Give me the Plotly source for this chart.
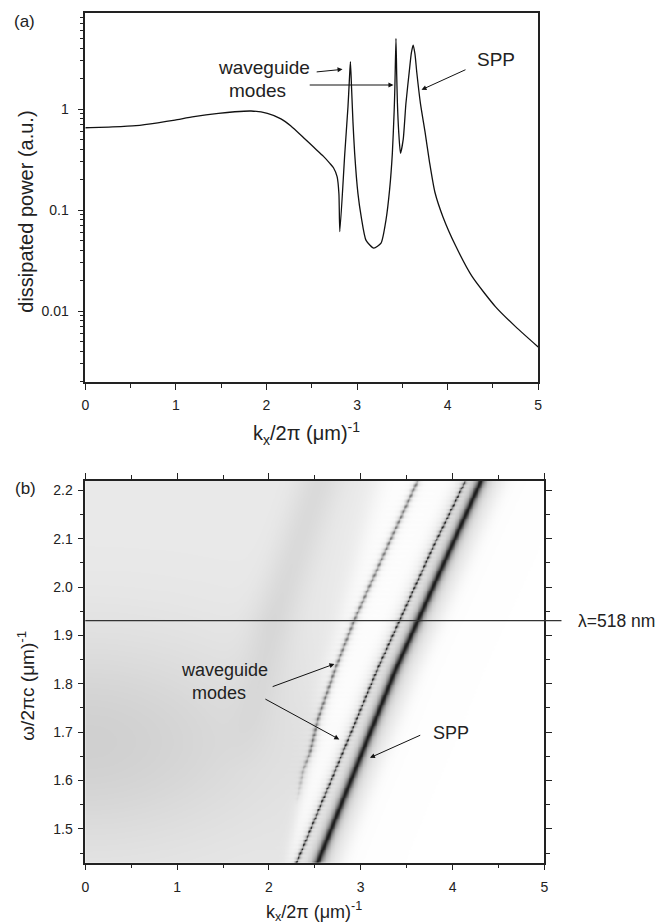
import numpy as np
import plotly.graph_objects as go

# ---------------- Panel (a): dissipated power vs k_x/2pi at lambda = 518 nm ----------------
k_a = [0.00, 0.30, 0.56, 0.80, 0.99, 1.20, 1.47, 1.65, 1.83, 2.01, 2.16, 2.27, 2.41, 2.52,
       2.63, 2.70, 2.74, 2.78, 2.80, 2.81, 2.865, 2.90, 2.915, 2.927, 2.94, 2.955, 2.974,
       3.01, 3.047, 3.10, 3.185, 3.265, 3.32, 3.36, 3.39, 3.41, 3.418, 3.43, 3.438, 3.446,
       3.46, 3.48, 3.51, 3.54, 3.58, 3.60, 3.62, 3.64, 3.66, 3.70, 3.75, 3.80, 3.86, 3.95,
       4.09, 4.27, 4.53, 4.75, 5.00]
p_a = [0.653, 0.665, 0.684, 0.73, 0.778, 0.84, 0.906, 0.94, 0.956, 0.906, 0.80, 0.68, 0.52, 0.42,
       0.34, 0.29, 0.262, 0.214, 0.146, 0.061, 0.364, 1.05, 1.9, 2.94, 1.6, 0.75, 0.364,
       0.146, 0.085, 0.050, 0.042, 0.047, 0.08, 0.16, 0.364, 0.95, 1.66, 5.0, 2.2, 1.14,
       0.6, 0.364, 0.5, 1.14, 2.5, 3.6, 4.3, 3.5, 2.3, 1.14, 0.6, 0.30, 0.15, 0.085,
       0.044, 0.022, 0.011, 0.007, 0.0044]

y_major_a = [0.01, 0.1, 1]
y_minor_a = [0.002, 0.003, 0.004, 0.005, 0.006, 0.007, 0.008, 0.009,
             0.02, 0.03, 0.04, 0.05, 0.06, 0.07, 0.08, 0.09,
             0.2, 0.3, 0.4, 0.5, 0.6, 0.7, 0.8, 0.9,
             2, 3, 4, 5, 6, 7, 8]
x_major = [0, 1, 2, 3, 4, 5]
x_minor = [0.5, 1.5, 2.5, 3.5, 4.5]

# ---------------- Panel (b): dispersion map (ridge positions) ----------------
w_mode1 = [1.55, 1.62, 1.66, 1.725, 1.83, 1.93, 2.08, 2.22]
k_mode1 = [2.30, 2.37, 2.45, 2.53, 2.72, 2.925, 3.28, 3.62]
w_mode2 = [1.43, 1.62, 1.83, 1.93, 2.08, 2.22]
k_mode2 = [2.30, 2.72, 3.18, 3.42, 3.78, 4.14]
w_spp = [1.43, 1.83, 1.93, 2.22]
k_spp = [2.53, 3.38, 3.62, 4.31]
w_edge = [1.43, 1.555, 1.657, 1.83, 1.93, 2.22]
k_edge = [2.20, 2.34, 2.45, 2.62, 2.78, 3.20]
w_ridge = [1.60, 1.93, 2.22]
k_ridge = [1.70, 2.05, 2.55]
lambda_nm = 518

kk = np.linspace(0, 5, 560)
ww = np.linspace(1.43, 2.22, 420)
K, W = np.meshgrid(kk, ww)


def ridge(wl, kl):
    return np.interp(ww, wl, kl)[:, None]


def lor(c, g):
    return 1.0 / (1.0 + ((K - c) / g) ** 2)


edge = ridge(w_edge, k_edge)
soft = np.interp(ww, [1.43, 2.22], [0.03, 0.08])[:, None]
mask = 1.0 / (1.0 + np.exp((K - edge) / soft))
bg = 0.085 + 0.10 * np.exp(-(K / 2.1) ** 2 - ((W - 1.68) / 0.22) ** 2)
rw = np.clip((W - 1.62) / 0.3, 0, 1)
bg = bg + 0.06 * rw * np.exp(-((K - ridge(w_ridge, k_ridge)) / 0.25) ** 2)
bg = bg * mask

m1c = ridge(w_mode1, k_mode1)
a1 = np.clip((W - 1.55) / 0.12, 0, 1) * (0.40 + 0.12 * np.cos(2 * np.pi * W / 0.011))
m1 = a1 * lor(m1c, 0.018)

m2c = ridge(w_mode2, k_mode2)
a2 = 0.62 + 0.25 * np.cos(2 * np.pi * W / 0.009)
m2 = a2 * lor(m2c, 0.012)

sc = ridge(w_spp, k_spp)
sp = 0.82 * lor(sc, 0.04) + 0.06 * np.exp(-((K - sc) / 0.28) ** 4)
sp = np.clip(sp, 0, 1)

dark = 1 - (1 - bg) * (1 - m1) * (1 - m2) * (1 - sp)
dark = np.round(np.clip(dark, 0, 1), 3)

y_major_b = [1.5, 1.6, 1.7, 1.8, 1.9, 2.0, 2.1, 2.2]
y_minor_b = [1.45, 1.55, 1.65, 1.75, 1.85, 1.95, 2.05, 2.15]

# ---------------- Figure ----------------
FONT = "Liberation Sans, Arial, Helvetica, sans-serif"
INK = "#222222"
W_PX, H_PX = 662, 923

fig = go.Figure()
fig.add_trace(go.Scatter(x=k_a, y=p_a, mode="lines", xaxis="x", yaxis="y",
                         line=dict(color="#111111", width=1.3, shape="spline", smoothing=0.6),
                         showlegend=False))
fig.add_trace(go.Heatmap(x=kk, y=ww, z=dark, xaxis="x2", yaxis="y2", zmin=0, zmax=1,
                         colorscale=[[0, "#ffffff"], [1, "#000000"]], showscale=False,
                         hoverinfo="skip"))

axis_common = dict(showgrid=False, zeroline=False, showline=True, linecolor=INK, linewidth=1.5,
                   ticks="outside", ticklen=6, tickwidth=1.3, tickcolor=INK,
                   tickfont=dict(family=FONT, size=14, color=INK))

fig.update_layout(
    width=W_PX, height=H_PX, autosize=False,
    margin=dict(l=0, r=0, t=0, b=0),
    paper_bgcolor="white", plot_bgcolor="white",
    font=dict(family=FONT, color=INK),
    xaxis=dict(domain=[82.3 / W_PX, 540.7 / W_PX], anchor="y", range=[0, 5],
               tickmode="array", tickvals=x_major, mirror=True, ticklabelstandoff=3,
               minor=dict(tickmode="array", tickvals=x_minor, ticks="outside", ticklen=4,
                          tickwidth=1.2, tickcolor=INK),
               **axis_common),
    yaxis=dict(domain=[1 - 382.3 / H_PX, 1 - 13.3 / H_PX], anchor="x", type="log",
               range=[-2.706, 0.948], tickmode="array", tickvals=y_major_a,
               ticktext=["0.01", "0.1", "1"], mirror=True, ticklabelstandoff=6,
               minor=dict(tickmode="array", tickvals=y_minor_a, ticks="outside", ticklen=4,
                          tickwidth=1.2, tickcolor=INK),
               **axis_common),
    xaxis2=dict(domain=[82.3 / W_PX, 547 / W_PX], anchor="y2", range=[0, 5],
                tickmode="array", tickvals=x_major, mirror="allticks", ticklabelstandoff=5,
                minor=dict(tickmode="array", tickvals=x_minor, ticks="outside", ticklen=4,
                           tickwidth=1.2, tickcolor=INK),
                **axis_common),
    yaxis2=dict(domain=[1 - 862.7 / H_PX, 1 - 480.7 / H_PX], anchor="x2", range=[1.43, 2.22],
                tickmode="array", tickvals=y_major_b,
                ticktext=[f"{v:.1f}" for v in y_major_b], mirror="allticks", ticklabelstandoff=2,
                minor=dict(tickmode="array", tickvals=y_minor_b, ticks="outside", ticklen=4,
                           tickwidth=1.2, tickcolor=INK),
                **axis_common),
)

lam_w = 1000.0 / lambda_nm
fig.add_shape(type="line", xref="paper", yref="y2", x0=82.3 / W_PX, x1=564.3 / W_PX,
              y0=lam_w, y1=lam_w, line=dict(color="#333333", width=1.2))

ann = []


def text(x, y, s, size, xref="paper", yref="paper", angle=0, xanchor="center"):
    ann.append(dict(x=x, y=y, xref=xref, yref=yref, text=s, showarrow=False, textangle=angle,
                    xanchor=xanchor, yanchor="middle",
                    font=dict(family=FONT, size=size, color=INK)))


def arrow(x, y, ax, ay, xref, yref):
    ann.append(dict(x=x, y=y, ax=ax, ay=ay, xref=xref, yref=yref, axref=xref, ayref=yref,
                    text="", showarrow=True, arrowhead=2, arrowsize=1.0, arrowwidth=1.0,
                    arrowcolor="#111111", standoff=0, startstandoff=0))


# panel labels and axis titles
text(21 / W_PX, 1 - 21 / H_PX, "(a)", 17)
text(22 / W_PX, 1 - 488 / H_PX, "(b)", 17)
text(22 / W_PX, 1 - 212 / H_PX, "dissipated power (a.u.)", 20, angle=-90)
text(306 / W_PX, 1 - 433 / H_PX, "k<sub>x</sub>/2π (μm)<sup>-1</sup>", 20)
text(22 / W_PX, 1 - 686 / H_PX, "ω/2πc (μm)<sup>-1</sup>", 19, angle=-90)
text(314 / W_PX, 1 - 911 / H_PX, "k<sub>x</sub>/2π (μm)<sup>-1</sup>", 18)
text(579 / W_PX, lam_w, "λ=518 nm", 17.5, yref="y2", xanchor="left")

# panel (a) annotations (log-axis positions in log10 units)
text(1.976, 0.416, "waveguide", 19, xref="x", yref="y")
text(1.905, 0.188, "modes", 19, xref="x", yref="y")
text(4.539, 0.495, "SPP", 19, xref="x", yref="y")
arrow(2.840, 0.393, 2.538, 0.366, "x", "y")
arrow(3.402, 0.238, 2.461, 0.238, "x", "y")
arrow(3.712, 0.191, 4.214, 0.396, "x", "y")

# panel (b) annotations
text(1.512, 1.8275, "waveguide", 18, xref="x2", yref="y2")
text(1.459, 1.781, "modes", 18, xref="x2", yref="y2")
text(3.985, 1.6985, "SPP", 18, xref="x2", yref="y2")
arrow(2.713, 1.841, 2.024, 1.793, "x2", "y2")
arrow(2.766, 1.685, 1.945, 1.770, "x2", "y2")
arrow(3.100, 1.647, 3.664, 1.695, "x2", "y2")

fig.update_layout(annotations=ann)
fig.write_html("out.html", config={"displayModeBar": False},
               post_script="document.body.style.margin='0';document.body.style.overflow='hidden';")
